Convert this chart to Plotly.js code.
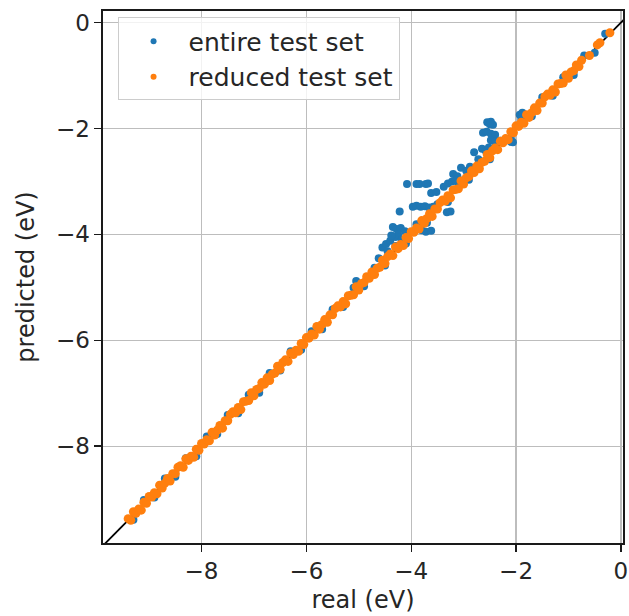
<!DOCTYPE html>
<html>
<head>
<meta charset="utf-8">
<script src="https://cdn.plot.ly/plotly-3.0.1.min.js"></script>
<style>
  html, body { margin: 0; padding: 0; background: #ffffff; }
  #chart { width: 629px; height: 616px; }
</style>
</head>
<body>
<div id="chart"></div>
<script>
// Parity plot: predicted vs. real energies (eV)

// Entire test set: points along the diagonal
const entireRealDiag = [-9.30, -9.10, -8.90, -8.70, -8.50, -8.30, -8.10, -7.90, -7.70, -7.50,
  -7.30, -7.10, -6.90, -6.70, -6.50, -6.30, -6.10, -5.90, -5.70, -5.50,
  -5.30, -5.10, -4.90, -4.70, -4.50, -4.30, -4.10, -3.90, -3.70, -3.50,
  -3.30, -3.10, -2.90, -2.70, -2.50, -2.30, -2.10, -1.90, -1.70, -1.50,
  -1.30, -1.10, -0.90, -0.70, -0.50, -0.30];
const entirePredDiag = [-9.39, -9.02, -8.97, -8.61, -8.58, -8.23, -8.19, -7.82, -7.77, -7.41,
  -7.38, -7.03, -6.99, -6.62, -6.57, -6.21, -6.18, -5.83, -5.79, -5.42,
  -5.37, -5.01, -4.98, -4.63, -4.59, -4.22, -4.17, -3.81, -3.78, -3.43,
  -3.39, -3.02, -2.97, -2.61, -2.58, -2.23, -2.19, -1.82, -1.77, -1.41,
  -1.38, -1.03, -0.99, -0.62, -0.57, -0.21];

// Entire test set: poorly predicted samples between -4.7 and -1.8 eV
const entireRealOff = [-2.55, -2.48, -2.44, -2.50, -2.63, -2.56, -2.48, -2.40, -2.48, -2.40,
  -2.65, -2.58, -2.52, -2.10, -2.06, -1.93, -1.88, -3.05, -2.95, -2.88,
  -3.20, -3.12, -2.80, -2.72,
  -4.08, -3.90, -3.84, -3.72, -3.68,
  -3.97, -3.90, -3.82, -3.74, -3.66, -3.58, -3.52,
  -3.62, -3.52, -4.22, -3.32, -3.25,
  -4.35, -4.28, -4.20, -4.12, -3.80, -3.72, -3.62,
  -3.38, -3.30, -3.22, -3.15,
  -4.55, -4.48, -4.40, -4.30, -4.25, -4.18, -4.45, -4.62, -4.38, -5.05];
const entirePredOff = [-1.88, -1.87, -1.93, -1.92, -2.08, -2.06, -2.10, -2.12, -2.22, -2.25,
  -2.38, -2.42, -2.36, -2.25, -2.26, -1.74, -1.70, -2.74, -2.80, -2.72,
  -2.86, -2.90, -2.45, -2.58,
  -3.05, -3.05, -3.05, -3.05, -3.04,
  -3.48, -3.46, -3.48, -3.47, -3.49, -3.48, -3.50,
  -3.22, -3.20, -3.57, -3.58, -3.57,
  -3.86, -3.90, -3.88, -3.94, -3.92, -3.95, -3.93,
  -3.10, -3.04, -3.00, -2.98,
  -4.25, -4.18, -4.12, -4.05, -4.00, -4.10, -4.32, -4.45, -4.02, -4.88];

// Reduced test set
const reducedReal = [
  -9.40, -9.35, -9.30, -9.25, -9.20, -9.15, -9.10, -9.05, -9.00, -8.95,
  -8.90, -8.85, -8.80, -8.75, -8.70, -8.65, -8.60, -8.55, -8.50, -8.45,
  -8.40, -8.35, -8.30, -8.25, -8.20, -8.15, -8.10, -8.05, -8.00, -7.95,
  -7.90, -7.85, -7.80, -7.75, -7.70, -7.65, -7.60, -7.55, -7.50, -7.45,
  -7.40, -7.35, -7.30, -7.25, -7.20, -7.15, -7.10, -7.05, -7.00, -6.95,
  -6.90, -6.85, -6.80, -6.75, -6.70, -6.65, -6.60, -6.55, -6.50, -6.45,
  -6.40, -6.35, -6.30, -6.25, -6.20, -6.15, -6.10, -6.05, -6.00, -5.95,
  -5.90, -5.85, -5.80, -5.75, -5.70, -5.65, -5.60, -5.55, -5.50, -5.45,
  -5.40, -5.35, -5.30, -5.25, -5.20, -5.15, -5.10, -5.05, -5.00, -4.95,
  -4.90, -4.85, -4.80, -4.75, -4.70, -4.65, -4.60, -4.55, -4.50, -4.45,
  -4.40, -4.35, -4.30, -4.25, -4.20, -4.15, -4.10, -4.05, -4.00, -3.95,
  -3.90, -3.85, -3.80, -3.75, -3.70, -3.65, -3.60, -3.55, -3.50, -3.45,
  -3.40, -3.35, -3.30, -3.25, -3.20, -3.15, -3.10, -3.05, -3.00, -2.95,
  -2.90, -2.85, -2.80, -2.75, -2.70, -2.65, -2.60, -2.55, -2.50, -2.45,
  -2.40, -2.35, -2.30, -2.25, -2.20, -2.15, -2.10, -2.05, -2.00, -1.95,
  -1.90, -1.85, -1.80, -1.75, -1.70, -1.65, -1.60, -1.55, -1.50, -1.45,
  -1.40, -1.35, -1.30, -1.25, -1.20, -1.15, -1.10, -1.05, -1.00, -0.95,
  -0.90, -0.85, -0.80, -0.75, -0.60, -0.45, -0.40, -0.21];
const reducedPred = [
  -9.37, -9.40, -9.24, -9.27, -9.19, -9.21, -9.06, -9.08, -8.95, -8.96,
  -8.88, -8.90, -8.74, -8.79, -8.70, -8.61, -8.66, -8.52, -8.52, -8.40,
  -8.37, -8.40, -8.24, -8.27, -8.19, -8.21, -8.06, -8.08, -7.95, -7.96,
  -7.88, -7.90, -7.74, -7.79, -7.70, -7.61, -7.66, -7.52, -7.52, -7.40,
  -7.35, -7.37, -7.27, -7.31, -7.16, -7.15, -7.14, -6.99, -7.05, -6.93,
  -6.91, -6.80, -6.83, -6.71, -6.76, -6.64, -6.62, -6.49, -6.55, -6.42,
  -6.37, -6.40, -6.24, -6.27, -6.19, -6.21, -6.06, -6.08, -5.95, -5.96,
  -5.88, -5.90, -5.74, -5.79, -5.70, -5.61, -5.66, -5.52, -5.52, -5.40,
  -5.35, -5.37, -5.27, -5.31, -5.16, -5.15, -5.14, -4.99, -5.05, -4.93,
  -4.91, -4.80, -4.83, -4.71, -4.76, -4.64, -4.62, -4.49, -4.55, -4.42,
  -4.37, -4.40, -4.24, -4.27, -4.19, -4.21, -4.06, -4.08, -3.95, -3.96,
  -3.88, -3.90, -3.74, -3.79, -3.70, -3.61, -3.66, -3.52, -3.52, -3.40,
  -3.35, -3.37, -3.27, -3.31, -3.16, -3.15, -3.14, -2.99, -3.05, -2.93,
  -2.91, -2.80, -2.83, -2.71, -2.76, -2.64, -2.62, -2.49, -2.55, -2.42,
  -2.37, -2.40, -2.24, -2.27, -2.19, -2.21, -2.06, -2.08, -1.95, -1.96,
  -1.88, -1.90, -1.74, -1.79, -1.70, -1.61, -1.66, -1.52, -1.52, -1.40,
  -1.35, -1.37, -1.27, -1.31, -1.16, -1.15, -1.14, -0.99, -1.05, -0.93,
  -0.91, -0.80, -0.83, -0.71, -0.62, -0.42, -0.38, -0.19];

// Ideal y = x reference line and axis settings
const identityEnds = [-10.0, 0.5];
const xRange = [-9.88, 0.04];
const yRange = [-9.83, 0.22];
const tickVals = [-8, -6, -4, -2, 0];
const legendNames = ['entire test set', 'reduced test set'];
const axisTitles = { x: 'real (eV)', y: 'predicted (eV)' };

const BLUE = '#1f77b4';
const ORANGE = '#ff7f0e';
const FONT = 'DejaVu Sans, sans-serif';
const TEXT = '#262626';

// Legend keys use a smaller dot than the plotted markers
function legendKey(name, color) {
  return {
    x: [null], y: [null], type: 'scatter', mode: 'markers', name: name,
    marker: { color: color, size: 6 }, hoverinfo: 'skip'
  };
}

const traces = [
  {
    x: identityEnds, y: identityEnds,
    type: 'scatter', mode: 'lines',
    line: { color: '#000000', width: 1.8 },
    showlegend: false, hoverinfo: 'skip'
  },
  {
    x: entireRealDiag.concat(entireRealOff),
    y: entirePredDiag.concat(entirePredOff),
    type: 'scatter', mode: 'markers', name: legendNames[0], showlegend: false,
    marker: { color: BLUE, size: 8 }
  },
  {
    x: reducedReal, y: reducedPred,
    type: 'scatter', mode: 'markers', name: legendNames[1], showlegend: false,
    marker: { color: ORANGE, size: 9 }
  },
  legendKey(legendNames[0], BLUE),
  legendKey(legendNames[1], ORANGE)
];

const axisCommon = {
  tickvals: tickVals,
  showgrid: true, gridcolor: '#bdbdbd', gridwidth: 1.2,
  zeroline: false,
  showline: true, linecolor: '#1a1a1a', linewidth: 1.6, mirror: true,
  ticks: 'outside', ticklen: 7, tickwidth: 1.4, tickcolor: '#1a1a1a',
  tickfont: { family: FONT, size: 23, color: TEXT },
  automargin: false
};

const layout = {
  width: 629, height: 616,
  margin: { l: 103, r: 6, t: 11, b: 73 },
  paper_bgcolor: '#ffffff', plot_bgcolor: '#ffffff',
  font: { family: FONT, color: TEXT },
  xaxis: Object.assign({}, axisCommon, {
    range: xRange,
    title: { text: axisTitles.x, font: { family: FONT, size: 24, color: TEXT }, standoff: 8 }
  }),
  yaxis: Object.assign({}, axisCommon, {
    range: yRange,
    title: { text: axisTitles.y, font: { family: FONT, size: 24, color: TEXT }, standoff: 14 }
  }),
  legend: {
    x: 0.028, y: 0.988, xanchor: 'left', yanchor: 'top',
    bgcolor: 'rgba(255,255,255,0.8)', bordercolor: '#cccccc', borderwidth: 1,
    font: { family: FONT, size: 25, color: TEXT },
    itemwidth: 60, tracegroupgap: 0
  },
  showlegend: true
};

Plotly.newPlot('chart', traces, layout, { displayModeBar: false, staticPlot: true });
</script>
</body>
</html>
